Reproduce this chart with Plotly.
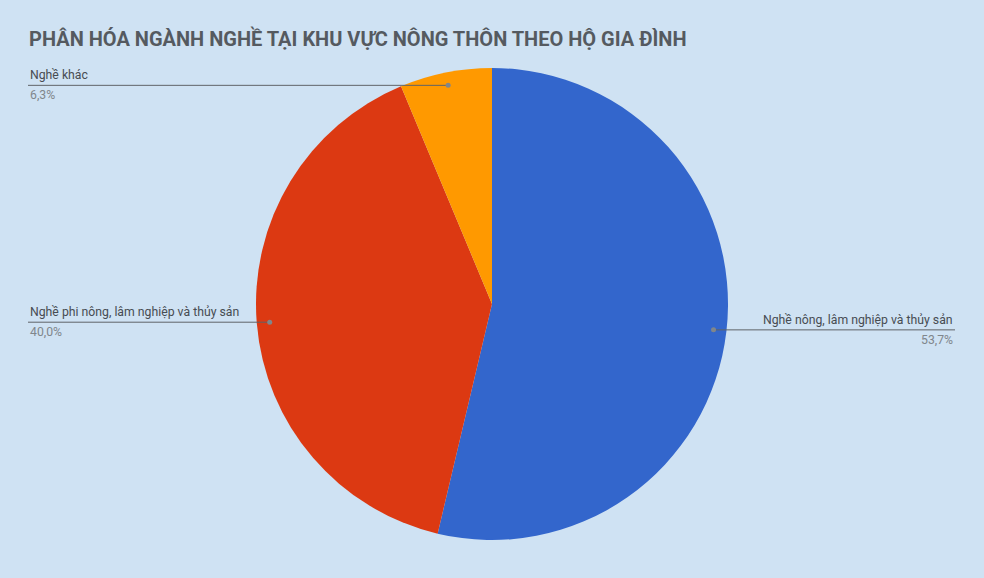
import math
import plotly.graph_objects as go

# -----------------------------
# Data
# -----------------------------
labels = [
    "Nghề nông, lâm nghiệp và thủy sản",
    "Nghề phi nông, lâm nghiệp và thủy sản",
    "Nghề khác",
]
values = [53.7, 40.0, 6.3]
pct_text = ["53,7%", "40,0%", "6,3%"]
colors = ["#3366cc", "#dc3912", "#ff9900"]
title = "PHÂN HÓA NGÀNH NGHỀ TẠI KHU VỰC NÔNG THÔN THEO HỘ GIA ĐÌNH"

# -----------------------------
# Layout geometry (pixels)
# -----------------------------
W, H = 984, 578
cx, cy, R = 492, 304, 236
left_x, right_x = 28, 955


def px(x):
    return x / W


def py(y):
    return (H - y) / H


fig = go.Figure()
fig.add_trace(
    go.Pie(
        labels=labels,
        values=values,
        sort=False,
        direction="clockwise",
        rotation=0,
        marker=dict(colors=colors, line=dict(width=0)),
        textinfo="none",
        hoverinfo="label+percent",
        showlegend=False,
        domain=dict(x=[0, 1], y=[(H - cy - R) / H, (H - cy + R) / H]),
    )
)

# leader lines + labels, placed at each slice's mid angle
shapes = []
annotations = []
total = sum(values)
cum = 0
for lab, val, pct in zip(labels, values, pct_text):
    mid = (cum + val / 2) / total * 2 * math.pi
    cum += val
    dx = math.sin(mid) * R * 0.945
    dy = -math.cos(mid) * R * 0.945
    x0, y0 = cx + dx, cy + dy
    right = dx > 0
    x1 = right_x if right else left_x
    shapes.append(dict(type="line", xref="paper", yref="paper",
                       x0=px(x0), y0=py(y0), x1=px(x1), y1=py(y0),
                       line=dict(color="#5f6368", width=1)))
    shapes.append(dict(type="circle", xref="paper", yref="paper",
                       xsizemode="pixel", ysizemode="pixel",
                       xanchor=px(x0), yanchor=py(y0),
                       x0=-2.5, x1=2.5, y0=-2.5, y1=2.5,
                       fillcolor="#80868b", line=dict(width=0)))
    anchor = "right" if right else "left"
    annotations.append(dict(xref="paper", yref="paper", x=px(x1), y=py(y0 - 1),
                            text=lab, showarrow=False, xanchor=anchor, yanchor="bottom",
                            font=dict(size=12.25, color="#474c52")))
    annotations.append(dict(xref="paper", yref="paper", x=px(x1), y=py(y0 + 1),
                            text=pct, showarrow=False, xanchor=anchor, yanchor="top",
                            font=dict(size=12.25, color="#80868b")))

fig.update_layout(
    width=W,
    height=H,
    margin=dict(l=0, r=0, t=0, b=0),
    paper_bgcolor="#cfe2f3",
    plot_bgcolor="#cfe2f3",
    font=dict(family="Roboto, Arial, sans-serif"),
    title=dict(text="<b>" + title + "</b>", x=px(29), xanchor="left",
               y=py(39), yanchor="middle",
               font=dict(size=20, color="#555a60")),
    shapes=shapes,
    annotations=annotations,
)

# page body has a default 8px margin; drop it so the chart fills the window
fig.write_html("out.html", config={"displayModeBar": False},
               post_script="document.body.style.margin='0';")
